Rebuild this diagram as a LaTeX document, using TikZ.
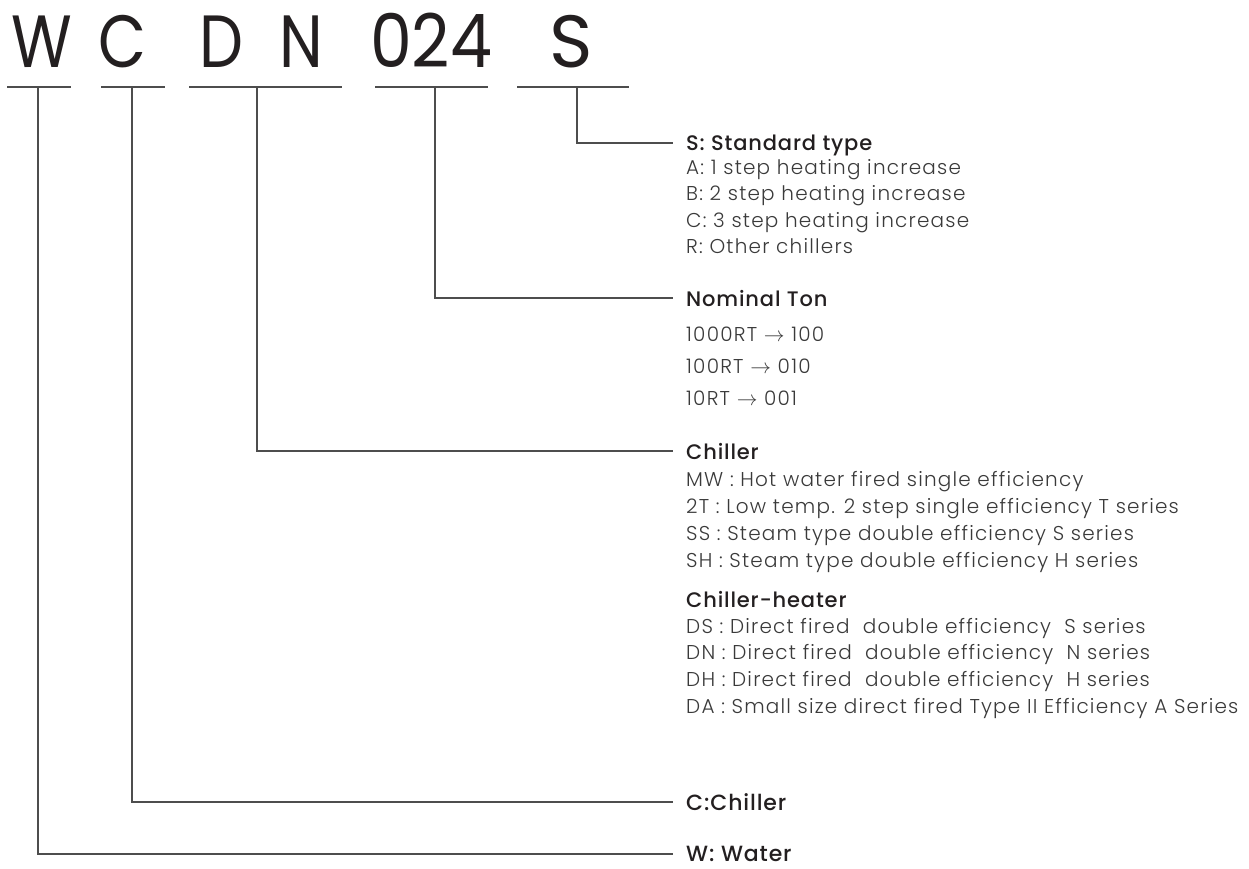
\documentclass[tikz,border=0pt]{standalone}
\usepackage{fontspec}
\setmainfont{Poppins}[UprightFont=* Light, LetterSpace=6]
\newfontfamily\codefont{Poppins}
\newfontfamily\headfont{Poppins}[UprightFont=* Medium, LetterSpace=4]
\usetikzlibrary{calc}
\definecolor{ink}{HTML}{231F20}
\definecolor{txt}{HTML}{3A3A3A}
\definecolor{lin}{HTML}{4D4D4D}
\newcommand{\narrow}[1]{\scalebox{0.84}[1]{#1}}

\begin{document}
\begin{tikzpicture}[x=1pt,y=-1pt,
    letter/.style={anchor=base, inner sep=0pt, text=ink,
            font=\codefont\fontsize{74}{74}\selectfont},
    head/.style={anchor=west, inner ysep=0pt, inner xsep=13pt, text depth=0pt, text=ink,
            font=\headfont\fontsize{21}{21}\selectfont},
    body/.style={anchor=base west, inner sep=0pt, text=txt,
            font=\fontsize{20}{20}\selectfont},
    rule/.style={line width=1.3pt, draw=lin}]
            \useasboundingbox (0,0) rectangle (1249,868);

            % model code
            \node[letter] (W) at (42,67) {\narrow{W}};
            \node[letter] (C) at (122,67) {\narrow{C}};
            \node[letter] (D) at (221,67) {\narrow{D}};
            \node[letter] (N) at (301,67) {\narrow{N}};
            \node[letter] (cap) at (431,67) {\scalebox{0.9}[1]{024}};
            \node[letter] (S) at (571,67) {S};

            \coordinate (uW) at (38,87);
            \coordinate (uC) at (132,87);
            \coordinate (uD) at (257,87);
            \coordinate (uT) at (435,87);
            \coordinate (uS) at (577,87);

            \draw[rule] (7,87) -- (71,87);
            \draw[rule] (101,87) -- (165,87);
            \draw[rule] (189,87) -- (342,87);
            \draw[rule] (375,87) -- (488,87);
            \draw[rule] (517,87) -- (629,87);

            % headings
            \node[head] (lS) at (673,143) {S: Standard type};
            \node[head] (lT) at (673,298) {Nominal Ton};
            \node[head] (lD) at (673,451) {Chiller};
            \node[head, anchor=base west] (lH) at (673,607) {Chiller-heater};
            \node[head, font=\headfont\fontsize{22}{22}\selectfont] (lC) at (673,802) {C:Chiller};
            \node[head, font=\headfont\fontsize{22}{22}\selectfont] (lW) at (673,854) {W: Water};

            \draw[rule] (uS) |- (lS);
            \draw[rule] (uT) |- (lT);
            \draw[rule] (uD) |- (lD);
            \draw[rule] (uC) |- (lC);
            \draw[rule] (uW) |- (lW);

            % entries
            \foreach \t [count=\i from 0] in {A: 1 step heating increase, B: 2 step heating increase,
                    C: 3 step heating increase, R: Other chillers}
                \node[body] (s\i) at (686,174+26.5*\i) {\t};

            \foreach \t [count=\i from 0] in {1000RT $\rightarrow$ 100, 100RT $\rightarrow$ 010,
                    10RT $\rightarrow$ 001}
                \node[body] (t\i) at (686,341+32*\i) {\t};

            \foreach \t [count=\i from 0] in {MW : Hot water fired single efficiency,
                    2T : Low temp. 2 step single efficiency T series,
                    SS : Steam type double efficiency S series,
                    SH : Steam type double efficiency H series}
                \node[body] (d\i) at (686,486+27*\i) {\t};

            \foreach \t [count=\i from 0] in {DS : Direct fired\ \ double efficiency\ \ S series,
                    DN : Direct fired\ \ double efficiency\ \ N series,
                    DH : Direct fired\ \ double efficiency\ \ H series,
                    DA : Small size direct fired Type II Efficiency A Series}
                \node[body] (h\i) at (686,633+26.7*\i) {\t};

        \end{tikzpicture}
\end{document}
